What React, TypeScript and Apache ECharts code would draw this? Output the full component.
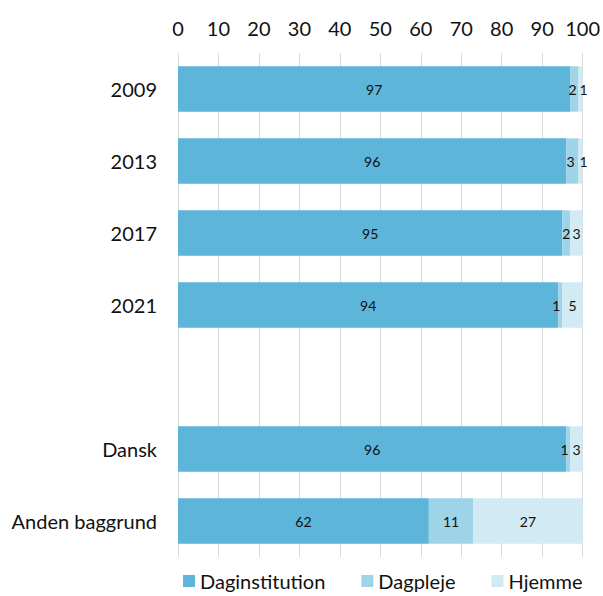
import React, { useEffect, useRef } from "react";
import * as echarts from "echarts";

const categories = ["2009", "2013", "2017", "2021", "", "Dansk", "Anden baggrund"];
const daginstitution = [97, 96, 95, 94, null, 96, 62];
const dagpleje = [2, 3, 2, 1, null, 1, 11];
const hjemme = [1, 1, 3, 5, null, 3, 27];
const xTicks = { min: 0, max: 100, interval: 10 };

const FONT = "Lato, 'Open Sans', sans-serif";

export default function App() {
  const ref = useRef<HTMLDivElement>(null);
  useEffect(() => {
    const chart = echarts.init(ref.current!, null, { renderer: "svg" });
    const label = {
      show: true,
      position: "inside",
      color: "#111",
      fontSize: 14,
      fontFamily: FONT,
    };
    const dagplejeData = dagpleje.map((v, i) => {
      const h = hjemme[i];
      if (v == null) return v;
      let dx = 0;
      if (v <= 1) dx = -4;
      else if (h != null && h <= 1) dx = -2;
      return dx ? { value: v, label: { show: true, offset: [dx, 0] } } : v;
    });
    const hjemmeData = hjemme.map((v) =>
      v != null && v <= 1 ? { value: v, label: { show: true, offset: [3, 0] } } : v
    );
    const mk = (name: string, data: any[], color: string) => ({
      name,
      type: "bar",
      stack: "total",
      data,
      barCategoryGap: "37%",
      itemStyle: { color },
      label,
      emphasis: { disabled: true },
    });
    chart.setOption({
      animation: false,
      textStyle: { fontFamily: FONT },
      grid: { left: 178, right: 18, top: 53, bottom: 39, containLabel: false },
      xAxis: {
        type: "value",
        position: "top",
        min: xTicks.min,
        max: xTicks.max,
        interval: xTicks.interval,
        axisLine: { show: false },
        axisTick: { show: false },
        axisLabel: { fontSize: 20, color: "#111", margin: 15, fontFamily: FONT },
        splitLine: { lineStyle: { color: "#d9d9d9", width: 1 } },
      },
      yAxis: {
        type: "category",
        data: categories,
        inverse: true,
        axisLine: { show: false },
        axisTick: { show: false },
        axisLabel: { fontSize: 20, color: "#111", margin: 21, fontFamily: FONT },
      },
      legend: {
        bottom: 0,
        left: 178,
        itemWidth: 12,
        itemHeight: 12,
        itemGap: 36,
        icon: "rect",
        textStyle: { fontSize: 20, color: "#111", fontFamily: FONT },
        data: ["Daginstitution", "Dagpleje", "Hjemme"],
      },
      series: [
        mk("Daginstitution", daginstitution, "#5db5d9"),
        mk("Dagpleje", dagplejeData, "#9fd3e7"),
        mk("Hjemme", hjemmeData, "#d1eaf4"),
      ],
    });
    return () => chart.dispose();
  }, []);
  return <div ref={ref} style={{ width: 603, height: 596, position: "absolute", left: 0, top: 0 }} />;
}
